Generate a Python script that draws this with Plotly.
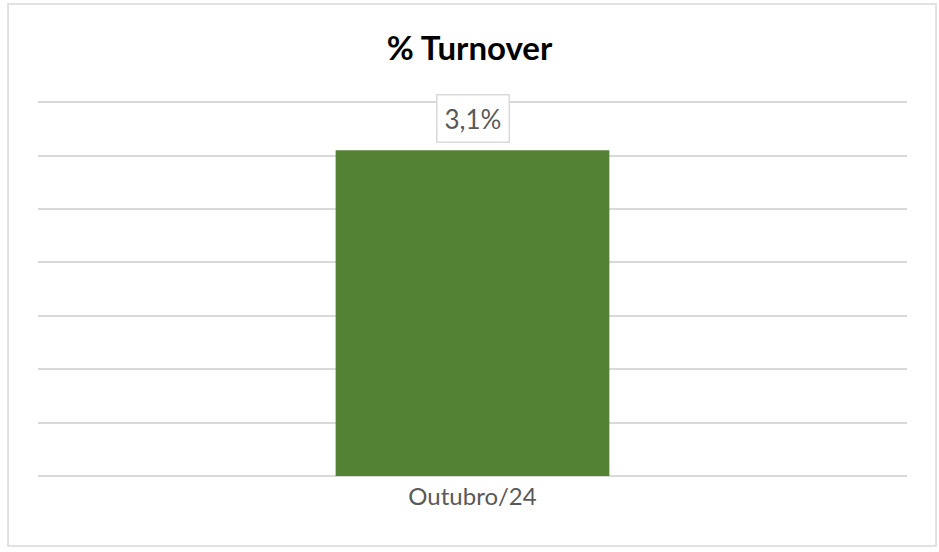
import plotly.graph_objects as go

categories = ["Outubro/24"]
values = [3.05]
labels = ["3,1%"]
title_text = "% Turnover"

fig = go.Figure()
fig.add_trace(go.Bar(
    x=categories, y=values,
    marker=dict(color="#548235", line=dict(width=0)),
    hoverinfo="skip",
))

for c, v, t in zip(categories, values, labels):
    fig.add_annotation(
        x=c, y=v, xref="x", yref="y", text=t, showarrow=False,
        yanchor="bottom", yshift=7,
        font=dict(family="Lato", size=26, color="#595959"),
        bordercolor="#d9d9d9", borderwidth=1.5, borderpad=7, bgcolor="white",
    )

fig.add_shape(type="rect", xref="paper", yref="paper",
              x0=-0.0345, x1=1.0334, y0=-0.186, y1=1.2553,
              line=dict(color="#d9d9d9", width=1.5), layer="below")

fig.update_layout(
    width=939, height=552,
    margin=dict(l=38, r=32, t=100, b=76),
    paper_bgcolor="white", plot_bgcolor="white",
    bargap=0.685,
    showlegend=False,
    title=dict(text="<b>" + title_text + "</b>", x=0.5, xanchor="center",
               y=1 - 48 / 552, yanchor="middle",
               font=dict(family="Lato", size=33, color="black")),
    xaxis=dict(showline=False, showgrid=False, ticks="", ticklabelstandoff=4,
               tickfont=dict(family="Lato", size=24, color="#595959")),
    yaxis=dict(range=[0, 3.52], tickvals=[0, 0.5, 1, 1.5, 2, 2.5, 3, 3.5],
               showticklabels=False,
               showgrid=True, gridcolor="#d9d9d9", gridwidth=1.5,
               zeroline=True, zerolinecolor="#d9d9d9", zerolinewidth=1.5,
               showline=False, ticks=""),
)

fig.write_html("out.html", config={"displayModeBar": False},
               post_script="document.body.style.margin='0';")
